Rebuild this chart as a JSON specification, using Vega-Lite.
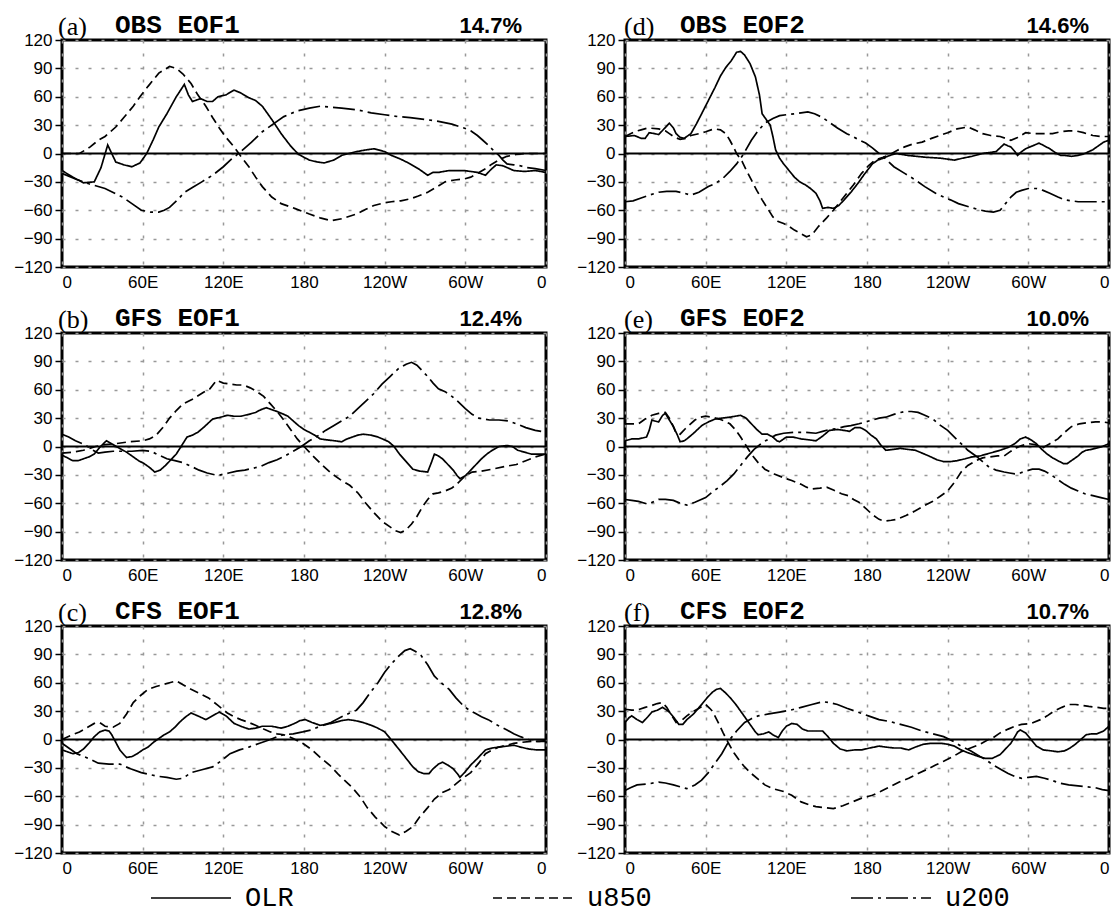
{
"$schema":"https://vega.github.io/schema/vega-lite/v6.json",
"padding":{"left":12,"top":10,"right":2,"bottom":2},
"background":"white",
"datasets":{
"titles":[
{"p":"a","tag":"(a)","name":"OBS EOF1","pct":"14.7%"},
{"p":"b","tag":"(b)","name":"GFS EOF1","pct":"12.4%"},
{"p":"c","tag":"(c)","name":"CFS EOF1","pct":"12.8%"},
{"p":"d","tag":"(d)","name":"OBS EOF2","pct":"14.6%"},
{"p":"e","tag":"(e)","name":"GFS EOF2","pct":"10.0%"},
{"p":"f","tag":"(f)","name":"CFS EOF2","pct":"10.7%"}
],
"a":[
{"s":"OLR","x":0,"y":-18},{"s":"OLR","x":8,"y":-25},{"s":"OLR","x":16,"y":-31},{"s":"OLR","x":24,"y":-30},{"s":"OLR","x":29,"y":-15},{"s":"OLR","x":34,"y":9},{"s":"OLR","x":37,"y":0},{"s":"OLR","x":40,"y":-9},{"s":"OLR","x":46,"y":-12},{"s":"OLR","x":52,"y":-14},{"s":"OLR","x":58,"y":-10},{"s":"OLR","x":63,"y":0},{"s":"OLR","x":68,"y":15},{"s":"OLR","x":72,"y":28},{"s":"OLR","x":78,"y":42},{"s":"OLR","x":85,"y":60},{"s":"OLR","x":91,"y":73},{"s":"OLR","x":94,"y":62},{"s":"OLR","x":97,"y":55},{"s":"OLR","x":103,"y":58},{"s":"OLR","x":108,"y":55},{"s":"OLR","x":112,"y":55},{"s":"OLR","x":116,"y":60},{"s":"OLR","x":122,"y":62},{"s":"OLR","x":128,"y":67},{"s":"OLR","x":133,"y":64},{"s":"OLR","x":139,"y":59},{"s":"OLR","x":144,"y":56},{"s":"OLR","x":149,"y":50},{"s":"OLR","x":156,"y":36},{"s":"OLR","x":163,"y":21},{"s":"OLR","x":170,"y":8},{"s":"OLR","x":176,"y":-1},{"s":"OLR","x":184,"y":-7},{"s":"OLR","x":190,"y":-9},{"s":"OLR","x":195,"y":-10},{"s":"OLR","x":202,"y":-7},{"s":"OLR","x":208,"y":-2},{"s":"OLR","x":219,"y":2},{"s":"OLR","x":227,"y":4},{"s":"OLR","x":232,"y":5},{"s":"OLR","x":240,"y":2},{"s":"OLR","x":245,"y":-2},{"s":"OLR","x":252,"y":-6},{"s":"OLR","x":259,"y":-11},{"s":"OLR","x":266,"y":-17},{"s":"OLR","x":272,"y":-23},{"s":"OLR","x":276,"y":-20},{"s":"OLR","x":280,"y":-20},{"s":"OLR","x":288,"y":-18},{"s":"OLR","x":299,"y":-18},{"s":"OLR","x":309,"y":-20},{"s":"OLR","x":315,"y":-23},{"s":"OLR","x":319,"y":-17},{"s":"OLR","x":323,"y":-12},{"s":"OLR","x":328,"y":-13},{"s":"OLR","x":336,"y":-18},{"s":"OLR","x":344,"y":-19},{"s":"OLR","x":352,"y":-18},{"s":"OLR","x":360,"y":-20},
{"s":"u850","x":0,"y":0},{"s":"u850","x":13,"y":0},{"s":"u850","x":21,"y":7},{"s":"u850","x":27,"y":14},{"s":"u850","x":32,"y":18},{"s":"u850","x":40,"y":28},{"s":"u850","x":46,"y":38},{"s":"u850","x":53,"y":50},{"s":"u850","x":58,"y":60},{"s":"u850","x":64,"y":71},{"s":"u850","x":72,"y":85},{"s":"u850","x":80,"y":92},{"s":"u850","x":85,"y":90},{"s":"u850","x":90,"y":84},{"s":"u850","x":96,"y":74},{"s":"u850","x":101,"y":62},{"s":"u850","x":107,"y":50},{"s":"u850","x":112,"y":38},{"s":"u850","x":117,"y":27},{"s":"u850","x":122,"y":17},{"s":"u850","x":128,"y":7},{"s":"u850","x":133,"y":-3},{"s":"u850","x":139,"y":-14},{"s":"u850","x":144,"y":-25},{"s":"u850","x":149,"y":-35},{"s":"u850","x":156,"y":-46},{"s":"u850","x":163,"y":-53},{"s":"u850","x":173,"y":-58},{"s":"u850","x":184,"y":-64},{"s":"u850","x":192,"y":-68},{"s":"u850","x":200,"y":-71},{"s":"u850","x":208,"y":-69},{"s":"u850","x":219,"y":-64},{"s":"u850","x":226,"y":-59},{"s":"u850","x":232,"y":-55},{"s":"u850","x":240,"y":-52},{"s":"u850","x":245,"y":-51},{"s":"u850","x":252,"y":-50},{"s":"u850","x":259,"y":-48},{"s":"u850","x":265,"y":-45},{"s":"u850","x":272,"y":-41},{"s":"u850","x":278,"y":-36},{"s":"u850","x":285,"y":-30},{"s":"u850","x":292,"y":-28},{"s":"u850","x":299,"y":-27},{"s":"u850","x":304,"y":-25},{"s":"u850","x":309,"y":-21},{"s":"u850","x":315,"y":-16},{"s":"u850","x":320,"y":-11},{"s":"u850","x":326,"y":-6},{"s":"u850","x":331,"y":-3},{"s":"u850","x":338,"y":-1},{"s":"u850","x":344,"y":0},{"s":"u850","x":352,"y":0},{"s":"u850","x":360,"y":0},
{"s":"u200","x":0,"y":-21},{"s":"u200","x":10,"y":-27},{"s":"u200","x":20,"y":-32},{"s":"u200","x":32,"y":-37},{"s":"u200","x":45,"y":-46},{"s":"u200","x":52,"y":-53},{"s":"u200","x":59,"y":-60},{"s":"u200","x":66,"y":-62},{"s":"u200","x":72,"y":-62},{"s":"u200","x":76,"y":-60},{"s":"u200","x":80,"y":-57},{"s":"u200","x":86,"y":-49},{"s":"u200","x":91,"y":-41},{"s":"u200","x":97,"y":-36},{"s":"u200","x":104,"y":-30},{"s":"u200","x":112,"y":-23},{"s":"u200","x":120,"y":-14},{"s":"u200","x":126,"y":-6},{"s":"u200","x":133,"y":2},{"s":"u200","x":141,"y":12},{"s":"u200","x":149,"y":23},{"s":"u200","x":157,"y":31},{"s":"u200","x":165,"y":39},{"s":"u200","x":175,"y":45},{"s":"u200","x":184,"y":48},{"s":"u200","x":192,"y":50},{"s":"u200","x":200,"y":49},{"s":"u200","x":208,"y":48},{"s":"u200","x":220,"y":46},{"s":"u200","x":230,"y":43},{"s":"u200","x":240,"y":41},{"s":"u200","x":250,"y":39},{"s":"u200","x":259,"y":38},{"s":"u200","x":270,"y":36},{"s":"u200","x":280,"y":34},{"s":"u200","x":290,"y":31},{"s":"u200","x":299,"y":27},{"s":"u200","x":304,"y":24},{"s":"u200","x":309,"y":19},{"s":"u200","x":313,"y":14},{"s":"u200","x":317,"y":9},{"s":"u200","x":321,"y":3},{"s":"u200","x":325,"y":-2},{"s":"u200","x":328,"y":-7},{"s":"u200","x":331,"y":-11},{"s":"u200","x":336,"y":-12},{"s":"u200","x":341,"y":-13},{"s":"u200","x":346,"y":-15},{"s":"u200","x":352,"y":-16},{"s":"u200","x":360,"y":-18}
],
"d":[
{"s":"OLR","x":0,"y":18},{"s":"OLR","x":7,"y":19},{"s":"OLR","x":12,"y":16},{"s":"OLR","x":15,"y":16},{"s":"OLR","x":18,"y":22},{"s":"OLR","x":22,"y":21},{"s":"OLR","x":25,"y":20},{"s":"OLR","x":29,"y":26},{"s":"OLR","x":33,"y":32},{"s":"OLR","x":36,"y":27},{"s":"OLR","x":38,"y":21},{"s":"OLR","x":41,"y":17},{"s":"OLR","x":44,"y":16},{"s":"OLR","x":49,"y":21},{"s":"OLR","x":53,"y":31},{"s":"OLR","x":57,"y":42},{"s":"OLR","x":62,"y":56},{"s":"OLR","x":67,"y":70},{"s":"OLR","x":71,"y":82},{"s":"OLR","x":75,"y":91},{"s":"OLR","x":79,"y":98},{"s":"OLR","x":83,"y":107},{"s":"OLR","x":86,"y":108},{"s":"OLR","x":89,"y":104},{"s":"OLR","x":93,"y":95},{"s":"OLR","x":97,"y":81},{"s":"OLR","x":100,"y":62},{"s":"OLR","x":102,"y":42},{"s":"OLR","x":105,"y":36},{"s":"OLR","x":108,"y":30},{"s":"OLR","x":110,"y":18},{"s":"OLR","x":112,"y":4},{"s":"OLR","x":115,"y":-5},{"s":"OLR","x":118,"y":-11},{"s":"OLR","x":122,"y":-18},{"s":"OLR","x":126,"y":-25},{"s":"OLR","x":130,"y":-30},{"s":"OLR","x":134,"y":-33},{"s":"OLR","x":138,"y":-37},{"s":"OLR","x":142,"y":-42},{"s":"OLR","x":145,"y":-50},{"s":"OLR","x":147,"y":-58},{"s":"OLR","x":151,"y":-57},{"s":"OLR","x":155,"y":-58},{"s":"OLR","x":159,"y":-55},{"s":"OLR","x":163,"y":-49},{"s":"OLR","x":168,"y":-41},{"s":"OLR","x":173,"y":-32},{"s":"OLR","x":178,"y":-22},{"s":"OLR","x":184,"y":-11},{"s":"OLR","x":188,"y":-7},{"s":"OLR","x":192,"y":-5},{"s":"OLR","x":197,"y":-2},{"s":"OLR","x":202,"y":0},{"s":"OLR","x":206,"y":-1},{"s":"OLR","x":210,"y":-2},{"s":"OLR","x":217,"y":-3},{"s":"OLR","x":224,"y":-4},{"s":"OLR","x":235,"y":-5},{"s":"OLR","x":245,"y":-7},{"s":"OLR","x":251,"y":-5},{"s":"OLR","x":258,"y":-3},{"s":"OLR","x":266,"y":0},{"s":"OLR","x":271,"y":1},{"s":"OLR","x":276,"y":2},{"s":"OLR","x":279,"y":6},{"s":"OLR","x":282,"y":10},{"s":"OLR","x":285,"y":8},{"s":"OLR","x":287,"y":7},{"s":"OLR","x":290,"y":2},{"s":"OLR","x":292,"y":-2},{"s":"OLR","x":295,"y":2},{"s":"OLR","x":298,"y":5},{"s":"OLR","x":303,"y":8},{"s":"OLR","x":308,"y":11},{"s":"OLR","x":312,"y":8},{"s":"OLR","x":316,"y":5},{"s":"OLR","x":320,"y":1},{"s":"OLR","x":324,"y":-2},{"s":"OLR","x":327,"y":-2},{"s":"OLR","x":332,"y":-3},{"s":"OLR","x":337,"y":-2},{"s":"OLR","x":342,"y":0},{"s":"OLR","x":348,"y":4},{"s":"OLR","x":353,"y":9},{"s":"OLR","x":356,"y":12},{"s":"OLR","x":360,"y":14},
{"s":"u850","x":0,"y":18},{"s":"u850","x":7,"y":23},{"s":"u850","x":12,"y":25},{"s":"u850","x":17,"y":27},{"s":"u850","x":25,"y":26},{"s":"u850","x":30,"y":24},{"s":"u850","x":33,"y":21},{"s":"u850","x":37,"y":17},{"s":"u850","x":41,"y":15},{"s":"u850","x":45,"y":16},{"s":"u850","x":49,"y":19},{"s":"u850","x":55,"y":21},{"s":"u850","x":60,"y":23},{"s":"u850","x":64,"y":25},{"s":"u850","x":67,"y":26},{"s":"u850","x":71,"y":25},{"s":"u850","x":75,"y":21},{"s":"u850","x":78,"y":14},{"s":"u850","x":81,"y":6},{"s":"u850","x":83,"y":0},{"s":"u850","x":87,"y":-8},{"s":"u850","x":90,"y":-17},{"s":"u850","x":94,"y":-28},{"s":"u850","x":98,"y":-39},{"s":"u850","x":102,"y":-49},{"s":"u850","x":106,"y":-58},{"s":"u850","x":110,"y":-67},{"s":"u850","x":114,"y":-72},{"s":"u850","x":118,"y":-74},{"s":"u850","x":122,"y":-77},{"s":"u850","x":126,"y":-81},{"s":"u850","x":130,"y":-84},{"s":"u850","x":135,"y":-88},{"s":"u850","x":139,"y":-86},{"s":"u850","x":144,"y":-77},{"s":"u850","x":150,"y":-68},{"s":"u850","x":155,"y":-60},{"s":"u850","x":160,"y":-51},{"s":"u850","x":165,"y":-42},{"s":"u850","x":170,"y":-33},{"s":"u850","x":176,"y":-21},{"s":"u850","x":181,"y":-13},{"s":"u850","x":186,"y":-7},{"s":"u850","x":192,"y":-4},{"s":"u850","x":197,"y":-1},{"s":"u850","x":202,"y":3},{"s":"u850","x":208,"y":7},{"s":"u850","x":214,"y":10},{"s":"u850","x":221,"y":12},{"s":"u850","x":228,"y":16},{"s":"u850","x":234,"y":19},{"s":"u850","x":240,"y":22},{"s":"u850","x":247,"y":26},{"s":"u850","x":255,"y":28},{"s":"u850","x":260,"y":25},{"s":"u850","x":266,"y":21},{"s":"u850","x":272,"y":19},{"s":"u850","x":279,"y":18},{"s":"u850","x":283,"y":16},{"s":"u850","x":287,"y":14},{"s":"u850","x":292,"y":17},{"s":"u850","x":298,"y":22},{"s":"u850","x":304,"y":21},{"s":"u850","x":311,"y":21},{"s":"u850","x":318,"y":21},{"s":"u850","x":324,"y":23},{"s":"u850","x":330,"y":24},{"s":"u850","x":335,"y":24},{"s":"u850","x":341,"y":22},{"s":"u850","x":348,"y":19},{"s":"u850","x":354,"y":18},{"s":"u850","x":360,"y":18},
{"s":"u200","x":0,"y":-51},{"s":"u200","x":6,"y":-50},{"s":"u200","x":12,"y":-47},{"s":"u200","x":18,"y":-44},{"s":"u200","x":25,"y":-41},{"s":"u200","x":31,"y":-40},{"s":"u200","x":38,"y":-40},{"s":"u200","x":44,"y":-42},{"s":"u200","x":49,"y":-44},{"s":"u200","x":55,"y":-41},{"s":"u200","x":62,"y":-35},{"s":"u200","x":68,"y":-31},{"s":"u200","x":73,"y":-26},{"s":"u200","x":78,"y":-19},{"s":"u200","x":83,"y":-11},{"s":"u200","x":88,"y":-1},{"s":"u200","x":94,"y":14},{"s":"u200","x":99,"y":24},{"s":"u200","x":104,"y":32},{"s":"u200","x":110,"y":37},{"s":"u200","x":115,"y":40},{"s":"u200","x":120,"y":41},{"s":"u200","x":126,"y":42},{"s":"u200","x":131,"y":43},{"s":"u200","x":136,"y":44},{"s":"u200","x":141,"y":42},{"s":"u200","x":147,"y":38},{"s":"u200","x":152,"y":33},{"s":"u200","x":158,"y":27},{"s":"u200","x":165,"y":21},{"s":"u200","x":172,"y":16},{"s":"u200","x":179,"y":11},{"s":"u200","x":184,"y":6},{"s":"u200","x":189,"y":0},{"s":"u200","x":194,"y":-6},{"s":"u200","x":200,"y":-14},{"s":"u200","x":208,"y":-21},{"s":"u200","x":216,"y":-28},{"s":"u200","x":223,"y":-35},{"s":"u200","x":231,"y":-42},{"s":"u200","x":237,"y":-46},{"s":"u200","x":242,"y":-49},{"s":"u200","x":248,"y":-53},{"s":"u200","x":255,"y":-56},{"s":"u200","x":262,"y":-59},{"s":"u200","x":268,"y":-61},{"s":"u200","x":274,"y":-62},{"s":"u200","x":279,"y":-60},{"s":"u200","x":283,"y":-53},{"s":"u200","x":287,"y":-46},{"s":"u200","x":291,"y":-41},{"s":"u200","x":295,"y":-39},{"s":"u200","x":300,"y":-37},{"s":"u200","x":306,"y":-37},{"s":"u200","x":311,"y":-39},{"s":"u200","x":316,"y":-42},{"s":"u200","x":322,"y":-46},{"s":"u200","x":327,"y":-49},{"s":"u200","x":332,"y":-50},{"s":"u200","x":337,"y":-51},{"s":"u200","x":345,"y":-51},{"s":"u200","x":351,"y":-51},{"s":"u200","x":360,"y":-51}
],
"b":[
{"s":"OLR","x":0,"y":-9},{"s":"OLR","x":4,"y":-12},{"s":"OLR","x":8,"y":-15},{"s":"OLR","x":12,"y":-15},{"s":"OLR","x":16,"y":-13},{"s":"OLR","x":20,"y":-11},{"s":"OLR","x":24,"y":-8},{"s":"OLR","x":28,"y":-1},{"s":"OLR","x":33,"y":6},{"s":"OLR","x":38,"y":2},{"s":"OLR","x":43,"y":-2},{"s":"OLR","x":48,"y":-6},{"s":"OLR","x":53,"y":-11},{"s":"OLR","x":57,"y":-15},{"s":"OLR","x":61,"y":-18},{"s":"OLR","x":65,"y":-22},{"s":"OLR","x":69,"y":-27},{"s":"OLR","x":73,"y":-25},{"s":"OLR","x":77,"y":-20},{"s":"OLR","x":81,"y":-14},{"s":"OLR","x":85,"y":-8},{"s":"OLR","x":89,"y":1},{"s":"OLR","x":93,"y":10},{"s":"OLR","x":97,"y":12},{"s":"OLR","x":101,"y":15},{"s":"OLR","x":106,"y":21},{"s":"OLR","x":112,"y":29},{"s":"OLR","x":118,"y":31},{"s":"OLR","x":123,"y":33},{"s":"OLR","x":128,"y":32},{"s":"OLR","x":133,"y":32},{"s":"OLR","x":139,"y":34},{"s":"OLR","x":144,"y":36},{"s":"OLR","x":148,"y":39},{"s":"OLR","x":152,"y":41},{"s":"OLR","x":156,"y":39},{"s":"OLR","x":160,"y":37},{"s":"OLR","x":165,"y":34},{"s":"OLR","x":168,"y":32},{"s":"OLR","x":172,"y":27},{"s":"OLR","x":176,"y":22},{"s":"OLR","x":180,"y":18},{"s":"OLR","x":184,"y":15},{"s":"OLR","x":188,"y":12},{"s":"OLR","x":192,"y":8},{"s":"OLR","x":197,"y":7},{"s":"OLR","x":203,"y":6},{"s":"OLR","x":208,"y":5},{"s":"OLR","x":212,"y":8},{"s":"OLR","x":216,"y":10},{"s":"OLR","x":220,"y":12},{"s":"OLR","x":224,"y":13},{"s":"OLR","x":230,"y":12},{"s":"OLR","x":235,"y":10},{"s":"OLR","x":240,"y":7},{"s":"OLR","x":243,"y":5},{"s":"OLR","x":247,"y":0},{"s":"OLR","x":251,"y":-8},{"s":"OLR","x":256,"y":-16},{"s":"OLR","x":261,"y":-24},{"s":"OLR","x":266,"y":-26},{"s":"OLR","x":272,"y":-27},{"s":"OLR","x":275,"y":-16},{"s":"OLR","x":277,"y":-8},{"s":"OLR","x":280,"y":-10},{"s":"OLR","x":283,"y":-13},{"s":"OLR","x":287,"y":-19},{"s":"OLR","x":291,"y":-25},{"s":"OLR","x":294,"y":-31},{"s":"OLR","x":296,"y":-34},{"s":"OLR","x":300,"y":-31},{"s":"OLR","x":304,"y":-25},{"s":"OLR","x":308,"y":-19},{"s":"OLR","x":312,"y":-13},{"s":"OLR","x":316,"y":-8},{"s":"OLR","x":320,"y":-4},{"s":"OLR","x":325,"y":0},{"s":"OLR","x":331,"y":1},{"s":"OLR","x":335,"y":0},{"s":"OLR","x":339,"y":-4},{"s":"OLR","x":344,"y":-6},{"s":"OLR","x":349,"y":-8},{"s":"OLR","x":354,"y":-8},{"s":"OLR","x":360,"y":-8},
{"s":"u850","x":0,"y":-7},{"s":"u850","x":8,"y":-6},{"s":"u850","x":16,"y":-4},{"s":"u850","x":25,"y":0},{"s":"u850","x":32,"y":2},{"s":"u850","x":40,"y":3},{"s":"u850","x":50,"y":5},{"s":"u850","x":60,"y":6},{"s":"u850","x":65,"y":8},{"s":"u850","x":70,"y":12},{"s":"u850","x":75,"y":20},{"s":"u850","x":80,"y":30},{"s":"u850","x":85,"y":38},{"s":"u850","x":90,"y":45},{"s":"u850","x":97,"y":50},{"s":"u850","x":105,"y":57},{"s":"u850","x":110,"y":61},{"s":"u850","x":115,"y":70},{"s":"u850","x":120,"y":67},{"s":"u850","x":125,"y":66},{"s":"u850","x":130,"y":65},{"s":"u850","x":135,"y":65},{"s":"u850","x":140,"y":62},{"s":"u850","x":145,"y":58},{"s":"u850","x":150,"y":53},{"s":"u850","x":155,"y":45},{"s":"u850","x":160,"y":37},{"s":"u850","x":165,"y":28},{"s":"u850","x":170,"y":18},{"s":"u850","x":175,"y":8},{"s":"u850","x":180,"y":0},{"s":"u850","x":186,"y":-9},{"s":"u850","x":193,"y":-19},{"s":"u850","x":200,"y":-28},{"s":"u850","x":207,"y":-35},{"s":"u850","x":214,"y":-41},{"s":"u850","x":220,"y":-49},{"s":"u850","x":226,"y":-60},{"s":"u850","x":232,"y":-70},{"s":"u850","x":238,"y":-79},{"s":"u850","x":244,"y":-85},{"s":"u850","x":248,"y":-89},{"s":"u850","x":252,"y":-91},{"s":"u850","x":256,"y":-88},{"s":"u850","x":260,"y":-82},{"s":"u850","x":264,"y":-74},{"s":"u850","x":268,"y":-64},{"s":"u850","x":272,"y":-56},{"s":"u850","x":276,"y":-50},{"s":"u850","x":280,"y":-49},{"s":"u850","x":285,"y":-47},{"s":"u850","x":290,"y":-44},{"s":"u850","x":295,"y":-38},{"s":"u850","x":300,"y":-31},{"s":"u850","x":305,"y":-27},{"s":"u850","x":312,"y":-26},{"s":"u850","x":320,"y":-24},{"s":"u850","x":330,"y":-21},{"s":"u850","x":338,"y":-19},{"s":"u850","x":345,"y":-15},{"s":"u850","x":352,"y":-11},{"s":"u850","x":360,"y":-8},
{"s":"u200","x":0,"y":13},{"s":"u200","x":5,"y":10},{"s":"u200","x":10,"y":6},{"s":"u200","x":15,"y":3},{"s":"u200","x":19,"y":0},{"s":"u200","x":23,"y":-4},{"s":"u200","x":27,"y":-7},{"s":"u200","x":32,"y":-6},{"s":"u200","x":38,"y":-5},{"s":"u200","x":45,"y":-5},{"s":"u200","x":52,"y":-5},{"s":"u200","x":60,"y":-4},{"s":"u200","x":66,"y":-5},{"s":"u200","x":72,"y":-9},{"s":"u200","x":78,"y":-13},{"s":"u200","x":84,"y":-15},{"s":"u200","x":90,"y":-17},{"s":"u200","x":96,"y":-21},{"s":"u200","x":102,"y":-25},{"s":"u200","x":108,"y":-28},{"s":"u200","x":114,"y":-30},{"s":"u200","x":118,"y":-30},{"s":"u200","x":124,"y":-28},{"s":"u200","x":130,"y":-26},{"s":"u200","x":136,"y":-25},{"s":"u200","x":142,"y":-23},{"s":"u200","x":148,"y":-21},{"s":"u200","x":154,"y":-17},{"s":"u200","x":160,"y":-14},{"s":"u200","x":166,"y":-10},{"s":"u200","x":172,"y":-5},{"s":"u200","x":178,"y":0},{"s":"u200","x":184,"y":6},{"s":"u200","x":190,"y":11},{"s":"u200","x":196,"y":17},{"s":"u200","x":202,"y":22},{"s":"u200","x":208,"y":27},{"s":"u200","x":214,"y":32},{"s":"u200","x":220,"y":40},{"s":"u200","x":226,"y":48},{"s":"u200","x":232,"y":56},{"s":"u200","x":238,"y":66},{"s":"u200","x":244,"y":74},{"s":"u200","x":250,"y":82},{"s":"u200","x":256,"y":87},{"s":"u200","x":260,"y":89},{"s":"u200","x":264,"y":86},{"s":"u200","x":268,"y":80},{"s":"u200","x":272,"y":74},{"s":"u200","x":276,"y":67},{"s":"u200","x":280,"y":61},{"s":"u200","x":285,"y":58},{"s":"u200","x":290,"y":53},{"s":"u200","x":295,"y":47},{"s":"u200","x":300,"y":40},{"s":"u200","x":305,"y":34},{"s":"u200","x":310,"y":30},{"s":"u200","x":318,"y":28},{"s":"u200","x":325,"y":28},{"s":"u200","x":332,"y":27},{"s":"u200","x":338,"y":24},{"s":"u200","x":345,"y":20},{"s":"u200","x":352,"y":17},{"s":"u200","x":360,"y":15}
],
"e":[
{"s":"OLR","x":0,"y":6},{"s":"OLR","x":5,"y":8},{"s":"OLR","x":10,"y":8},{"s":"OLR","x":16,"y":10},{"s":"OLR","x":18,"y":17},{"s":"OLR","x":20,"y":28},{"s":"OLR","x":22,"y":27},{"s":"OLR","x":25,"y":26},{"s":"OLR","x":28,"y":33},{"s":"OLR","x":30,"y":35},{"s":"OLR","x":33,"y":28},{"s":"OLR","x":36,"y":21},{"s":"OLR","x":39,"y":12},{"s":"OLR","x":41,"y":5},{"s":"OLR","x":44,"y":6},{"s":"OLR","x":46,"y":8},{"s":"OLR","x":51,"y":14},{"s":"OLR","x":57,"y":22},{"s":"OLR","x":62,"y":26},{"s":"OLR","x":67,"y":29},{"s":"OLR","x":72,"y":30},{"s":"OLR","x":78,"y":31},{"s":"OLR","x":82,"y":32},{"s":"OLR","x":86,"y":33},{"s":"OLR","x":90,"y":30},{"s":"OLR","x":94,"y":24},{"s":"OLR","x":98,"y":18},{"s":"OLR","x":102,"y":13},{"s":"OLR","x":106,"y":13},{"s":"OLR","x":110,"y":10},{"s":"OLR","x":113,"y":6},{"s":"OLR","x":115,"y":5},{"s":"OLR","x":118,"y":8},{"s":"OLR","x":120,"y":10},{"s":"OLR","x":125,"y":10},{"s":"OLR","x":131,"y":8},{"s":"OLR","x":137,"y":7},{"s":"OLR","x":142,"y":6},{"s":"OLR","x":147,"y":11},{"s":"OLR","x":152,"y":17},{"s":"OLR","x":158,"y":18},{"s":"OLR","x":163,"y":17},{"s":"OLR","x":167,"y":16},{"s":"OLR","x":171,"y":20},{"s":"OLR","x":175,"y":20},{"s":"OLR","x":179,"y":17},{"s":"OLR","x":183,"y":12},{"s":"OLR","x":187,"y":8},{"s":"OLR","x":190,"y":2},{"s":"OLR","x":194,"y":-4},{"s":"OLR","x":200,"y":-3},{"s":"OLR","x":205,"y":-2},{"s":"OLR","x":210,"y":-3},{"s":"OLR","x":216,"y":-4},{"s":"OLR","x":221,"y":-7},{"s":"OLR","x":226,"y":-10},{"s":"OLR","x":232,"y":-14},{"s":"OLR","x":237,"y":-16},{"s":"OLR","x":242,"y":-16},{"s":"OLR","x":247,"y":-15},{"s":"OLR","x":253,"y":-13},{"s":"OLR","x":258,"y":-11},{"s":"OLR","x":264,"y":-10},{"s":"OLR","x":269,"y":-8},{"s":"OLR","x":274,"y":-6},{"s":"OLR","x":279,"y":-4},{"s":"OLR","x":285,"y":-1},{"s":"OLR","x":290,"y":3},{"s":"OLR","x":294,"y":8},{"s":"OLR","x":298,"y":10},{"s":"OLR","x":302,"y":7},{"s":"OLR","x":306,"y":3},{"s":"OLR","x":310,"y":-3},{"s":"OLR","x":314,"y":-8},{"s":"OLR","x":318,"y":-12},{"s":"OLR","x":322,"y":-15},{"s":"OLR","x":326,"y":-18},{"s":"OLR","x":329,"y":-18},{"s":"OLR","x":333,"y":-14},{"s":"OLR","x":337,"y":-10},{"s":"OLR","x":340,"y":-6},{"s":"OLR","x":343,"y":-4},{"s":"OLR","x":347,"y":-3},{"s":"OLR","x":350,"y":-2},{"s":"OLR","x":355,"y":0},{"s":"OLR","x":360,"y":3},
{"s":"u850","x":0,"y":24},{"s":"u850","x":5,"y":24},{"s":"u850","x":10,"y":24},{"s":"u850","x":15,"y":29},{"s":"u850","x":20,"y":33},{"s":"u850","x":25,"y":35},{"s":"u850","x":30,"y":36},{"s":"u850","x":33,"y":30},{"s":"u850","x":36,"y":21},{"s":"u850","x":38,"y":14},{"s":"u850","x":41,"y":13},{"s":"u850","x":45,"y":19},{"s":"u850","x":52,"y":28},{"s":"u850","x":56,"y":31},{"s":"u850","x":60,"y":32},{"s":"u850","x":65,"y":31},{"s":"u850","x":70,"y":29},{"s":"u850","x":74,"y":27},{"s":"u850","x":78,"y":24},{"s":"u850","x":82,"y":18},{"s":"u850","x":86,"y":10},{"s":"u850","x":90,"y":1},{"s":"u850","x":94,"y":-8},{"s":"u850","x":99,"y":-17},{"s":"u850","x":104,"y":-24},{"s":"u850","x":111,"y":-29},{"s":"u850","x":118,"y":-33},{"s":"u850","x":124,"y":-36},{"s":"u850","x":131,"y":-40},{"s":"u850","x":135,"y":-43},{"s":"u850","x":139,"y":-45},{"s":"u850","x":145,"y":-44},{"s":"u850","x":150,"y":-43},{"s":"u850","x":155,"y":-46},{"s":"u850","x":161,"y":-50},{"s":"u850","x":166,"y":-52},{"s":"u850","x":170,"y":-56},{"s":"u850","x":174,"y":-59},{"s":"u850","x":178,"y":-64},{"s":"u850","x":184,"y":-72},{"s":"u850","x":189,"y":-77},{"s":"u850","x":193,"y":-79},{"s":"u850","x":198,"y":-78},{"s":"u850","x":202,"y":-77},{"s":"u850","x":209,"y":-73},{"s":"u850","x":216,"y":-68},{"s":"u850","x":222,"y":-63},{"s":"u850","x":229,"y":-58},{"s":"u850","x":235,"y":-52},{"s":"u850","x":240,"y":-47},{"s":"u850","x":245,"y":-38},{"s":"u850","x":250,"y":-27},{"s":"u850","x":255,"y":-20},{"s":"u850","x":261,"y":-15},{"s":"u850","x":266,"y":-12},{"s":"u850","x":271,"y":-11},{"s":"u850","x":277,"y":-10},{"s":"u850","x":282,"y":-10},{"s":"u850","x":286,"y":-6},{"s":"u850","x":290,"y":-2},{"s":"u850","x":295,"y":1},{"s":"u850","x":300,"y":3},{"s":"u850","x":305,"y":2},{"s":"u850","x":311,"y":-1},{"s":"u850","x":316,"y":3},{"s":"u850","x":322,"y":8},{"s":"u850","x":327,"y":15},{"s":"u850","x":332,"y":21},{"s":"u850","x":338,"y":24},{"s":"u850","x":343,"y":25},{"s":"u850","x":350,"y":26},{"s":"u850","x":355,"y":26},{"s":"u850","x":360,"y":25},
{"s":"u200","x":0,"y":-56},{"s":"u200","x":5,"y":-57},{"s":"u200","x":10,"y":-58},{"s":"u200","x":17,"y":-61},{"s":"u200","x":22,"y":-58},{"s":"u200","x":25,"y":-56},{"s":"u200","x":30,"y":-56},{"s":"u200","x":36,"y":-57},{"s":"u200","x":41,"y":-60},{"s":"u200","x":46,"y":-62},{"s":"u200","x":52,"y":-59},{"s":"u200","x":60,"y":-54},{"s":"u200","x":65,"y":-48},{"s":"u200","x":70,"y":-43},{"s":"u200","x":76,"y":-36},{"s":"u200","x":81,"y":-29},{"s":"u200","x":86,"y":-20},{"s":"u200","x":91,"y":-11},{"s":"u200","x":96,"y":-3},{"s":"u200","x":102,"y":4},{"s":"u200","x":107,"y":8},{"s":"u200","x":112,"y":12},{"s":"u200","x":118,"y":14},{"s":"u200","x":126,"y":15},{"s":"u200","x":134,"y":15},{"s":"u200","x":142,"y":14},{"s":"u200","x":147,"y":16},{"s":"u200","x":152,"y":18},{"s":"u200","x":158,"y":19},{"s":"u200","x":163,"y":21},{"s":"u200","x":168,"y":22},{"s":"u200","x":174,"y":24},{"s":"u200","x":179,"y":26},{"s":"u200","x":184,"y":28},{"s":"u200","x":189,"y":30},{"s":"u200","x":194,"y":31},{"s":"u200","x":200,"y":34},{"s":"u200","x":205,"y":36},{"s":"u200","x":208,"y":37},{"s":"u200","x":213,"y":37},{"s":"u200","x":218,"y":36},{"s":"u200","x":223,"y":33},{"s":"u200","x":229,"y":29},{"s":"u200","x":234,"y":23},{"s":"u200","x":240,"y":17},{"s":"u200","x":245,"y":10},{"s":"u200","x":250,"y":3},{"s":"u200","x":255,"y":-4},{"s":"u200","x":261,"y":-10},{"s":"u200","x":266,"y":-16},{"s":"u200","x":271,"y":-22},{"s":"u200","x":276,"y":-25},{"s":"u200","x":282,"y":-27},{"s":"u200","x":286,"y":-28},{"s":"u200","x":290,"y":-29},{"s":"u200","x":294,"y":-28},{"s":"u200","x":298,"y":-26},{"s":"u200","x":303,"y":-24},{"s":"u200","x":308,"y":-24},{"s":"u200","x":312,"y":-26},{"s":"u200","x":316,"y":-29},{"s":"u200","x":322,"y":-35},{"s":"u200","x":327,"y":-40},{"s":"u200","x":332,"y":-44},{"s":"u200","x":337,"y":-47},{"s":"u200","x":342,"y":-50},{"s":"u200","x":348,"y":-52},{"s":"u200","x":354,"y":-54},{"s":"u200","x":360,"y":-56}
],
"c":[
{"s":"OLR","x":0,"y":-11},{"s":"OLR","x":4,"y":-13},{"s":"OLR","x":8,"y":-15},{"s":"OLR","x":12,"y":-14},{"s":"OLR","x":16,"y":-10},{"s":"OLR","x":20,"y":-4},{"s":"OLR","x":24,"y":3},{"s":"OLR","x":28,"y":8},{"s":"OLR","x":32,"y":10},{"s":"OLR","x":35,"y":9},{"s":"OLR","x":37,"y":5},{"s":"OLR","x":40,"y":-3},{"s":"OLR","x":43,"y":-11},{"s":"OLR","x":46,"y":-16},{"s":"OLR","x":48,"y":-19},{"s":"OLR","x":52,"y":-18},{"s":"OLR","x":56,"y":-15},{"s":"OLR","x":60,"y":-11},{"s":"OLR","x":64,"y":-8},{"s":"OLR","x":68,"y":-3},{"s":"OLR","x":72,"y":1},{"s":"OLR","x":76,"y":5},{"s":"OLR","x":80,"y":8},{"s":"OLR","x":84,"y":13},{"s":"OLR","x":88,"y":19},{"s":"OLR","x":92,"y":24},{"s":"OLR","x":96,"y":28},{"s":"OLR","x":101,"y":25},{"s":"OLR","x":107,"y":21},{"s":"OLR","x":112,"y":25},{"s":"OLR","x":117,"y":29},{"s":"OLR","x":122,"y":25},{"s":"OLR","x":128,"y":17},{"s":"OLR","x":133,"y":14},{"s":"OLR","x":139,"y":11},{"s":"OLR","x":144,"y":12},{"s":"OLR","x":149,"y":14},{"s":"OLR","x":156,"y":14},{"s":"OLR","x":163,"y":12},{"s":"OLR","x":168,"y":14},{"s":"OLR","x":173,"y":17},{"s":"OLR","x":177,"y":20},{"s":"OLR","x":181,"y":21},{"s":"OLR","x":186,"y":18},{"s":"OLR","x":192,"y":15},{"s":"OLR","x":197,"y":16},{"s":"OLR","x":203,"y":18},{"s":"OLR","x":208,"y":20},{"s":"OLR","x":213,"y":21},{"s":"OLR","x":218,"y":20},{"s":"OLR","x":224,"y":18},{"s":"OLR","x":230,"y":15},{"s":"OLR","x":235,"y":12},{"s":"OLR","x":240,"y":8},{"s":"OLR","x":243,"y":3},{"s":"OLR","x":247,"y":-4},{"s":"OLR","x":251,"y":-11},{"s":"OLR","x":256,"y":-20},{"s":"OLR","x":261,"y":-29},{"s":"OLR","x":265,"y":-34},{"s":"OLR","x":269,"y":-36},{"s":"OLR","x":273,"y":-36},{"s":"OLR","x":276,"y":-31},{"s":"OLR","x":280,"y":-26},{"s":"OLR","x":283,"y":-24},{"s":"OLR","x":287,"y":-27},{"s":"OLR","x":291,"y":-31},{"s":"OLR","x":294,"y":-36},{"s":"OLR","x":296,"y":-40},{"s":"OLR","x":300,"y":-34},{"s":"OLR","x":304,"y":-27},{"s":"OLR","x":309,"y":-20},{"s":"OLR","x":315,"y":-11},{"s":"OLR","x":320,"y":-9},{"s":"OLR","x":325,"y":-8},{"s":"OLR","x":331,"y":-7},{"s":"OLR","x":336,"y":-6},{"s":"OLR","x":341,"y":-8},{"s":"OLR","x":347,"y":-10},{"s":"OLR","x":353,"y":-11},{"s":"OLR","x":360,"y":-11},
{"s":"u850","x":0,"y":0},{"s":"u850","x":6,"y":4},{"s":"u850","x":13,"y":8},{"s":"u850","x":18,"y":12},{"s":"u850","x":24,"y":17},{"s":"u850","x":28,"y":18},{"s":"u850","x":32,"y":14},{"s":"u850","x":38,"y":13},{"s":"u850","x":43,"y":17},{"s":"u850","x":48,"y":27},{"s":"u850","x":53,"y":39},{"s":"u850","x":58,"y":46},{"s":"u850","x":64,"y":53},{"s":"u850","x":70,"y":56},{"s":"u850","x":75,"y":58},{"s":"u850","x":80,"y":60},{"s":"u850","x":85,"y":62},{"s":"u850","x":90,"y":58},{"s":"u850","x":96,"y":53},{"s":"u850","x":102,"y":49},{"s":"u850","x":109,"y":44},{"s":"u850","x":116,"y":36},{"s":"u850","x":123,"y":28},{"s":"u850","x":128,"y":24},{"s":"u850","x":133,"y":21},{"s":"u850","x":139,"y":18},{"s":"u850","x":144,"y":15},{"s":"u850","x":150,"y":11},{"s":"u850","x":155,"y":8},{"s":"u850","x":160,"y":6},{"s":"u850","x":165,"y":5},{"s":"u850","x":172,"y":1},{"s":"u850","x":179,"y":-4},{"s":"u850","x":186,"y":-11},{"s":"u850","x":192,"y":-19},{"s":"u850","x":199,"y":-27},{"s":"u850","x":205,"y":-36},{"s":"u850","x":210,"y":-43},{"s":"u850","x":216,"y":-51},{"s":"u850","x":222,"y":-61},{"s":"u850","x":227,"y":-72},{"s":"u850","x":233,"y":-82},{"s":"u850","x":240,"y":-92},{"s":"u850","x":245,"y":-97},{"s":"u850","x":251,"y":-101},{"s":"u850","x":256,"y":-97},{"s":"u850","x":261,"y":-92},{"s":"u850","x":266,"y":-82},{"s":"u850","x":272,"y":-72},{"s":"u850","x":277,"y":-63},{"s":"u850","x":283,"y":-56},{"s":"u850","x":288,"y":-53},{"s":"u850","x":293,"y":-47},{"s":"u850","x":298,"y":-41},{"s":"u850","x":304,"y":-35},{"s":"u850","x":310,"y":-25},{"s":"u850","x":315,"y":-15},{"s":"u850","x":320,"y":-11},{"s":"u850","x":325,"y":-8},{"s":"u850","x":331,"y":-6},{"s":"u850","x":336,"y":-4},{"s":"u850","x":342,"y":-3},{"s":"u850","x":349,"y":-2},{"s":"u850","x":355,"y":-2},{"s":"u850","x":360,"y":-1},
{"s":"u200","x":0,"y":-4},{"s":"u200","x":5,"y":-9},{"s":"u200","x":11,"y":-15},{"s":"u200","x":18,"y":-19},{"s":"u200","x":27,"y":-25},{"s":"u200","x":35,"y":-26},{"s":"u200","x":43,"y":-26},{"s":"u200","x":51,"y":-31},{"s":"u200","x":59,"y":-35},{"s":"u200","x":65,"y":-37},{"s":"u200","x":72,"y":-39},{"s":"u200","x":78,"y":-40},{"s":"u200","x":85,"y":-42},{"s":"u200","x":90,"y":-41},{"s":"u200","x":96,"y":-35},{"s":"u200","x":104,"y":-32},{"s":"u200","x":112,"y":-29},{"s":"u200","x":118,"y":-23},{"s":"u200","x":125,"y":-15},{"s":"u200","x":132,"y":-11},{"s":"u200","x":139,"y":-8},{"s":"u200","x":147,"y":-4},{"s":"u200","x":155,"y":0},{"s":"u200","x":160,"y":3},{"s":"u200","x":165,"y":5},{"s":"u200","x":172,"y":6},{"s":"u200","x":179,"y":8},{"s":"u200","x":185,"y":10},{"s":"u200","x":192,"y":14},{"s":"u200","x":200,"y":18},{"s":"u200","x":208,"y":24},{"s":"u200","x":214,"y":28},{"s":"u200","x":219,"y":31},{"s":"u200","x":224,"y":39},{"s":"u200","x":229,"y":49},{"s":"u200","x":235,"y":60},{"s":"u200","x":240,"y":71},{"s":"u200","x":245,"y":80},{"s":"u200","x":251,"y":89},{"s":"u200","x":255,"y":94},{"s":"u200","x":259,"y":96},{"s":"u200","x":263,"y":93},{"s":"u200","x":267,"y":89},{"s":"u200","x":272,"y":79},{"s":"u200","x":277,"y":67},{"s":"u200","x":282,"y":60},{"s":"u200","x":288,"y":53},{"s":"u200","x":293,"y":44},{"s":"u200","x":299,"y":35},{"s":"u200","x":303,"y":31},{"s":"u200","x":307,"y":28},{"s":"u200","x":312,"y":24},{"s":"u200","x":317,"y":21},{"s":"u200","x":324,"y":15},{"s":"u200","x":331,"y":10},{"s":"u200","x":336,"y":6},{"s":"u200","x":341,"y":3},{"s":"u200","x":347,"y":0},{"s":"u200","x":352,"y":-2},{"s":"u200","x":360,"y":-2}
],
"f":[
{"s":"OLR","x":0,"y":18},{"s":"OLR","x":3,"y":23},{"s":"OLR","x":5,"y":25},{"s":"OLR","x":9,"y":21},{"s":"OLR","x":13,"y":18},{"s":"OLR","x":17,"y":24},{"s":"OLR","x":20,"y":29},{"s":"OLR","x":24,"y":31},{"s":"OLR","x":28,"y":34},{"s":"OLR","x":31,"y":31},{"s":"OLR","x":33,"y":29},{"s":"OLR","x":37,"y":22},{"s":"OLR","x":40,"y":16},{"s":"OLR","x":43,"y":16},{"s":"OLR","x":46,"y":21},{"s":"OLR","x":51,"y":27},{"s":"OLR","x":57,"y":37},{"s":"OLR","x":61,"y":44},{"s":"OLR","x":65,"y":50},{"s":"OLR","x":68,"y":53},{"s":"OLR","x":71,"y":54},{"s":"OLR","x":75,"y":49},{"s":"OLR","x":79,"y":43},{"s":"OLR","x":83,"y":36},{"s":"OLR","x":86,"y":30},{"s":"OLR","x":90,"y":22},{"s":"OLR","x":94,"y":14},{"s":"OLR","x":97,"y":8},{"s":"OLR","x":99,"y":5},{"s":"OLR","x":103,"y":6},{"s":"OLR","x":107,"y":8},{"s":"OLR","x":110,"y":5},{"s":"OLR","x":114,"y":2},{"s":"OLR","x":117,"y":9},{"s":"OLR","x":120,"y":14},{"s":"OLR","x":124,"y":17},{"s":"OLR","x":128,"y":16},{"s":"OLR","x":132,"y":11},{"s":"OLR","x":136,"y":9},{"s":"OLR","x":141,"y":9},{"s":"OLR","x":147,"y":9},{"s":"OLR","x":151,"y":3},{"s":"OLR","x":155,"y":-4},{"s":"OLR","x":160,"y":-10},{"s":"OLR","x":165,"y":-12},{"s":"OLR","x":171,"y":-11},{"s":"OLR","x":176,"y":-11},{"s":"OLR","x":182,"y":-9},{"s":"OLR","x":189,"y":-7},{"s":"OLR","x":194,"y":-8},{"s":"OLR","x":200,"y":-9},{"s":"OLR","x":205,"y":-9},{"s":"OLR","x":211,"y":-11},{"s":"OLR","x":216,"y":-8},{"s":"OLR","x":222,"y":-5},{"s":"OLR","x":228,"y":-4},{"s":"OLR","x":235,"y":-4},{"s":"OLR","x":240,"y":-5},{"s":"OLR","x":245,"y":-7},{"s":"OLR","x":250,"y":-11},{"s":"OLR","x":255,"y":-14},{"s":"OLR","x":261,"y":-17},{"s":"OLR","x":268,"y":-20},{"s":"OLR","x":273,"y":-20},{"s":"OLR","x":279,"y":-16},{"s":"OLR","x":283,"y":-10},{"s":"OLR","x":287,"y":-4},{"s":"OLR","x":290,"y":3},{"s":"OLR","x":292,"y":8},{"s":"OLR","x":294,"y":10},{"s":"OLR","x":298,"y":7},{"s":"OLR","x":302,"y":0},{"s":"OLR","x":306,"y":-7},{"s":"OLR","x":311,"y":-11},{"s":"OLR","x":317,"y":-12},{"s":"OLR","x":322,"y":-13},{"s":"OLR","x":327,"y":-12},{"s":"OLR","x":331,"y":-9},{"s":"OLR","x":335,"y":-5},{"s":"OLR","x":339,"y":0},{"s":"OLR","x":343,"y":5},{"s":"OLR","x":347,"y":6},{"s":"OLR","x":351,"y":6},{"s":"OLR","x":356,"y":9},{"s":"OLR","x":360,"y":14},
{"s":"u850","x":0,"y":32},{"s":"u850","x":5,"y":31},{"s":"u850","x":9,"y":31},{"s":"u850","x":15,"y":34},{"s":"u850","x":20,"y":36},{"s":"u850","x":24,"y":38},{"s":"u850","x":28,"y":39},{"s":"u850","x":31,"y":34},{"s":"u850","x":34,"y":27},{"s":"u850","x":38,"y":18},{"s":"u850","x":42,"y":20},{"s":"u850","x":46,"y":25},{"s":"u850","x":50,"y":29},{"s":"u850","x":55,"y":33},{"s":"u850","x":60,"y":37},{"s":"u850","x":63,"y":33},{"s":"u850","x":65,"y":30},{"s":"u850","x":69,"y":19},{"s":"u850","x":73,"y":7},{"s":"u850","x":77,"y":-4},{"s":"u850","x":81,"y":-14},{"s":"u850","x":85,"y":-22},{"s":"u850","x":89,"y":-29},{"s":"u850","x":94,"y":-36},{"s":"u850","x":99,"y":-42},{"s":"u850","x":104,"y":-48},{"s":"u850","x":110,"y":-52},{"s":"u850","x":118,"y":-55},{"s":"u850","x":124,"y":-59},{"s":"u850","x":131,"y":-66},{"s":"u850","x":137,"y":-69},{"s":"u850","x":142,"y":-71},{"s":"u850","x":148,"y":-72},{"s":"u850","x":155,"y":-73},{"s":"u850","x":162,"y":-70},{"s":"u850","x":169,"y":-66},{"s":"u850","x":176,"y":-62},{"s":"u850","x":184,"y":-59},{"s":"u850","x":190,"y":-55},{"s":"u850","x":197,"y":-50},{"s":"u850","x":204,"y":-45},{"s":"u850","x":211,"y":-41},{"s":"u850","x":218,"y":-36},{"s":"u850","x":224,"y":-32},{"s":"u850","x":231,"y":-27},{"s":"u850","x":237,"y":-23},{"s":"u850","x":244,"y":-18},{"s":"u850","x":250,"y":-13},{"s":"u850","x":257,"y":-9},{"s":"u850","x":264,"y":-5},{"s":"u850","x":269,"y":-1},{"s":"u850","x":274,"y":2},{"s":"u850","x":279,"y":7},{"s":"u850","x":285,"y":11},{"s":"u850","x":290,"y":14},{"s":"u850","x":295,"y":16},{"s":"u850","x":302,"y":17},{"s":"u850","x":309,"y":21},{"s":"u850","x":314,"y":25},{"s":"u850","x":319,"y":30},{"s":"u850","x":325,"y":34},{"s":"u850","x":330,"y":37},{"s":"u850","x":335,"y":37},{"s":"u850","x":340,"y":36},{"s":"u850","x":345,"y":35},{"s":"u850","x":351,"y":34},{"s":"u850","x":356,"y":33},{"s":"u850","x":360,"y":33},
{"s":"u200","x":0,"y":-54},{"s":"u200","x":4,"y":-51},{"s":"u200","x":9,"y":-48},{"s":"u200","x":17,"y":-47},{"s":"u200","x":25,"y":-45},{"s":"u200","x":30,"y":-46},{"s":"u200","x":36,"y":-48},{"s":"u200","x":41,"y":-50},{"s":"u200","x":46,"y":-52},{"s":"u200","x":52,"y":-48},{"s":"u200","x":57,"y":-43},{"s":"u200","x":62,"y":-35},{"s":"u200","x":67,"y":-25},{"s":"u200","x":72,"y":-15},{"s":"u200","x":78,"y":0},{"s":"u200","x":83,"y":9},{"s":"u200","x":89,"y":18},{"s":"u200","x":94,"y":22},{"s":"u200","x":99,"y":25},{"s":"u200","x":107,"y":27},{"s":"u200","x":115,"y":29},{"s":"u200","x":123,"y":31},{"s":"u200","x":131,"y":34},{"s":"u200","x":139,"y":37},{"s":"u200","x":147,"y":40},{"s":"u200","x":152,"y":39},{"s":"u200","x":158,"y":37},{"s":"u200","x":165,"y":33},{"s":"u200","x":173,"y":29},{"s":"u200","x":181,"y":25},{"s":"u200","x":189,"y":21},{"s":"u200","x":197,"y":19},{"s":"u200","x":205,"y":16},{"s":"u200","x":213,"y":13},{"s":"u200","x":221,"y":9},{"s":"u200","x":229,"y":6},{"s":"u200","x":237,"y":3},{"s":"u200","x":243,"y":-1},{"s":"u200","x":250,"y":-7},{"s":"u200","x":257,"y":-12},{"s":"u200","x":264,"y":-18},{"s":"u200","x":269,"y":-22},{"s":"u200","x":274,"y":-27},{"s":"u200","x":280,"y":-32},{"s":"u200","x":285,"y":-36},{"s":"u200","x":290,"y":-39},{"s":"u200","x":295,"y":-41},{"s":"u200","x":300,"y":-40},{"s":"u200","x":306,"y":-39},{"s":"u200","x":312,"y":-41},{"s":"u200","x":317,"y":-43},{"s":"u200","x":323,"y":-46},{"s":"u200","x":330,"y":-48},{"s":"u200","x":337,"y":-49},{"s":"u200","x":343,"y":-50},{"s":"u200","x":350,"y":-51},{"s":"u200","x":355,"y":-53},{"s":"u200","x":360,"y":-54}
]
},
"columns":2,
"spacing":{"row":66,"column":79},
"bounds":"flush",
"concat":[
{"width":484,"height":227,"layer":[
 {"data":{"name":"a"},"mark":{"type":"line","color":"black","strokeWidth":1.7},"encoding":{
  "x":{"field":"x","type":"quantitative","scale":{"domain":[0,360],"nice":false,"zero":false},"axis":{"values":[0,60,120,180,240,300,360],"title":null,"labelExpr":"datum.value == 0 || datum.value == 360 ? '0' : datum.value < 180 ? datum.value + 'E' : datum.value == 180 ? '180' : (360 - datum.value) + 'W'"}},
  "y":{"field":"y","type":"quantitative","scale":{"domain":[-120,120],"nice":false,"zero":false},"axis":{"values":[-120,-90,-60,-30,0,30,60,90,120],"title":null,"labelOverlap":false}},
  "strokeDash":{"field":"s","type":"nominal","scale":{"domain":["OLR","u850","u200"],"range":[[1,0],[9,5],[22,5,3,5]]},"legend":{"orient":"none","legendX":88,"legendY":817,"direction":"horizontal","columns":3,"title":null,"symbolType":"stroke","symbolSize":6400,"symbolStrokeWidth":1.6,"symbolStrokeColor":"black","labelFont":"Liberation Mono","labelFontSize":27,"labelColor":"black","labelOffset":13,"columnPadding":195,"gridAlign":"each"}}}},
 {"data":{"name":"titles"},"transform":[{"filter":"datum.p == 'a'"}],"layer":[
  {"mark":{"type":"rule","color":"black","strokeWidth":2},"encoding":{"y":{"datum":0,"type":"quantitative","axis":{"values":[-120,-90,-60,-30,0,30,60,90,120],"title":null,"labelOverlap":false}}}},
  {"mark":{"type":"text","font":"Liberation Serif","fontSize":26,"align":"left","baseline":"alphabetic","dx":-4,"dy":-5,"color":"black"},"encoding":{"text":{"field":"tag"},"x":{"datum":0,"type":"quantitative","axis":{"values":[0,60,120,180,240,300,360],"title":null,"labelExpr":"datum.value == 0 || datum.value == 360 ? '0' : datum.value < 180 ? datum.value + 'E' : datum.value == 180 ? '180' : (360 - datum.value) + 'W'"}},"y":{"datum":120,"type":"quantitative","axis":{"values":[-120,-90,-60,-30,0,30,60,90,120],"title":null,"labelOverlap":false}}}},
  {"mark":{"type":"text","font":"Liberation Mono","fontWeight":"bold","fontSize":26,"align":"left","baseline":"alphabetic","dx":53,"dy":-7,"color":"black"},"encoding":{"text":{"field":"name"},"x":{"datum":0,"type":"quantitative","axis":{"values":[0,60,120,180,240,300,360],"title":null,"labelExpr":"datum.value == 0 || datum.value == 360 ? '0' : datum.value < 180 ? datum.value + 'E' : datum.value == 180 ? '180' : (360 - datum.value) + 'W'"}},"y":{"datum":120,"type":"quantitative","axis":{"values":[-120,-90,-60,-30,0,30,60,90,120],"title":null,"labelOverlap":false}}}},
  {"mark":{"type":"text","font":"Liberation Sans","fontWeight":"bold","fontSize":22,"align":"right","baseline":"alphabetic","dx":-24,"dy":-7,"color":"black"},"encoding":{"text":{"field":"pct"},"x":{"datum":360,"type":"quantitative","axis":{"values":[0,60,120,180,240,300,360],"title":null,"labelExpr":"datum.value == 0 || datum.value == 360 ? '0' : datum.value < 180 ? datum.value + 'E' : datum.value == 180 ? '180' : (360 - datum.value) + 'W'"}},"y":{"datum":120,"type":"quantitative","axis":{"values":[-120,-90,-60,-30,0,30,60,90,120],"title":null,"labelOverlap":false}}}}
 ]}
]},
{"width":484,"height":227,"layer":[
 {"data":{"name":"d"},"mark":{"type":"line","color":"black","strokeWidth":1.7},"encoding":{
  "x":{"field":"x","type":"quantitative","scale":{"domain":[0,360],"nice":false,"zero":false},"axis":{"values":[0,60,120,180,240,300,360],"title":null,"labelExpr":"datum.value == 0 || datum.value == 360 ? '0' : datum.value < 180 ? datum.value + 'E' : datum.value == 180 ? '180' : (360 - datum.value) + 'W'"}},
  "y":{"field":"y","type":"quantitative","scale":{"domain":[-120,120],"nice":false,"zero":false},"axis":{"values":[-120,-90,-60,-30,0,30,60,90,120],"title":null,"labelOverlap":false}},
  "strokeDash":{"field":"s","type":"nominal","scale":{"domain":["OLR","u850","u200"],"range":[[1,0],[9,5],[22,5,3,5]]},"legend":{"orient":"none","legendX":88,"legendY":817,"direction":"horizontal","columns":3,"title":null,"symbolType":"stroke","symbolSize":6400,"symbolStrokeWidth":1.6,"symbolStrokeColor":"black","labelFont":"Liberation Mono","labelFontSize":27,"labelColor":"black","labelOffset":13,"columnPadding":195,"gridAlign":"each"}}}},
 {"data":{"name":"titles"},"transform":[{"filter":"datum.p == 'd'"}],"layer":[
  {"mark":{"type":"rule","color":"black","strokeWidth":2},"encoding":{"y":{"datum":0,"type":"quantitative","axis":{"values":[-120,-90,-60,-30,0,30,60,90,120],"title":null,"labelOverlap":false}}}},
  {"mark":{"type":"text","font":"Liberation Serif","fontSize":26,"align":"left","baseline":"alphabetic","dx":-1,"dy":-5,"color":"black"},"encoding":{"text":{"field":"tag"},"x":{"datum":0,"type":"quantitative","axis":{"values":[0,60,120,180,240,300,360],"title":null,"labelExpr":"datum.value == 0 || datum.value == 360 ? '0' : datum.value < 180 ? datum.value + 'E' : datum.value == 180 ? '180' : (360 - datum.value) + 'W'"}},"y":{"datum":120,"type":"quantitative","axis":{"values":[-120,-90,-60,-30,0,30,60,90,120],"title":null,"labelOverlap":false}}}},
  {"mark":{"type":"text","font":"Liberation Mono","fontWeight":"bold","fontSize":26,"align":"left","baseline":"alphabetic","dx":55,"dy":-7,"color":"black"},"encoding":{"text":{"field":"name"},"x":{"datum":0,"type":"quantitative","axis":{"values":[0,60,120,180,240,300,360],"title":null,"labelExpr":"datum.value == 0 || datum.value == 360 ? '0' : datum.value < 180 ? datum.value + 'E' : datum.value == 180 ? '180' : (360 - datum.value) + 'W'"}},"y":{"datum":120,"type":"quantitative","axis":{"values":[-120,-90,-60,-30,0,30,60,90,120],"title":null,"labelOverlap":false}}}},
  {"mark":{"type":"text","font":"Liberation Sans","fontWeight":"bold","fontSize":22,"align":"right","baseline":"alphabetic","dx":-20,"dy":-7,"color":"black"},"encoding":{"text":{"field":"pct"},"x":{"datum":360,"type":"quantitative","axis":{"values":[0,60,120,180,240,300,360],"title":null,"labelExpr":"datum.value == 0 || datum.value == 360 ? '0' : datum.value < 180 ? datum.value + 'E' : datum.value == 180 ? '180' : (360 - datum.value) + 'W'"}},"y":{"datum":120,"type":"quantitative","axis":{"values":[-120,-90,-60,-30,0,30,60,90,120],"title":null,"labelOverlap":false}}}}
 ]}
]},
{"width":484,"height":227,"layer":[
 {"data":{"name":"b"},"mark":{"type":"line","color":"black","strokeWidth":1.7},"encoding":{
  "x":{"field":"x","type":"quantitative","scale":{"domain":[0,360],"nice":false,"zero":false},"axis":{"values":[0,60,120,180,240,300,360],"title":null,"labelExpr":"datum.value == 0 || datum.value == 360 ? '0' : datum.value < 180 ? datum.value + 'E' : datum.value == 180 ? '180' : (360 - datum.value) + 'W'"}},
  "y":{"field":"y","type":"quantitative","scale":{"domain":[-120,120],"nice":false,"zero":false},"axis":{"values":[-120,-90,-60,-30,0,30,60,90,120],"title":null,"labelOverlap":false}},
  "strokeDash":{"field":"s","type":"nominal","scale":{"domain":["OLR","u850","u200"],"range":[[1,0],[9,5],[22,5,3,5]]},"legend":{"orient":"none","legendX":88,"legendY":817,"direction":"horizontal","columns":3,"title":null,"symbolType":"stroke","symbolSize":6400,"symbolStrokeWidth":1.6,"symbolStrokeColor":"black","labelFont":"Liberation Mono","labelFontSize":27,"labelColor":"black","labelOffset":13,"columnPadding":195,"gridAlign":"each"}}}},
 {"data":{"name":"titles"},"transform":[{"filter":"datum.p == 'b'"}],"layer":[
  {"mark":{"type":"rule","color":"black","strokeWidth":2},"encoding":{"y":{"datum":0,"type":"quantitative","axis":{"values":[-120,-90,-60,-30,0,30,60,90,120],"title":null,"labelOverlap":false}}}},
  {"mark":{"type":"text","font":"Liberation Serif","fontSize":26,"align":"left","baseline":"alphabetic","dx":-4,"dy":-5,"color":"black"},"encoding":{"text":{"field":"tag"},"x":{"datum":0,"type":"quantitative","axis":{"values":[0,60,120,180,240,300,360],"title":null,"labelExpr":"datum.value == 0 || datum.value == 360 ? '0' : datum.value < 180 ? datum.value + 'E' : datum.value == 180 ? '180' : (360 - datum.value) + 'W'"}},"y":{"datum":120,"type":"quantitative","axis":{"values":[-120,-90,-60,-30,0,30,60,90,120],"title":null,"labelOverlap":false}}}},
  {"mark":{"type":"text","font":"Liberation Mono","fontWeight":"bold","fontSize":26,"align":"left","baseline":"alphabetic","dx":53,"dy":-7,"color":"black"},"encoding":{"text":{"field":"name"},"x":{"datum":0,"type":"quantitative","axis":{"values":[0,60,120,180,240,300,360],"title":null,"labelExpr":"datum.value == 0 || datum.value == 360 ? '0' : datum.value < 180 ? datum.value + 'E' : datum.value == 180 ? '180' : (360 - datum.value) + 'W'"}},"y":{"datum":120,"type":"quantitative","axis":{"values":[-120,-90,-60,-30,0,30,60,90,120],"title":null,"labelOverlap":false}}}},
  {"mark":{"type":"text","font":"Liberation Sans","fontWeight":"bold","fontSize":22,"align":"right","baseline":"alphabetic","dx":-24,"dy":-7,"color":"black"},"encoding":{"text":{"field":"pct"},"x":{"datum":360,"type":"quantitative","axis":{"values":[0,60,120,180,240,300,360],"title":null,"labelExpr":"datum.value == 0 || datum.value == 360 ? '0' : datum.value < 180 ? datum.value + 'E' : datum.value == 180 ? '180' : (360 - datum.value) + 'W'"}},"y":{"datum":120,"type":"quantitative","axis":{"values":[-120,-90,-60,-30,0,30,60,90,120],"title":null,"labelOverlap":false}}}}
 ]}
]},
{"width":484,"height":227,"layer":[
 {"data":{"name":"e"},"mark":{"type":"line","color":"black","strokeWidth":1.7},"encoding":{
  "x":{"field":"x","type":"quantitative","scale":{"domain":[0,360],"nice":false,"zero":false},"axis":{"values":[0,60,120,180,240,300,360],"title":null,"labelExpr":"datum.value == 0 || datum.value == 360 ? '0' : datum.value < 180 ? datum.value + 'E' : datum.value == 180 ? '180' : (360 - datum.value) + 'W'"}},
  "y":{"field":"y","type":"quantitative","scale":{"domain":[-120,120],"nice":false,"zero":false},"axis":{"values":[-120,-90,-60,-30,0,30,60,90,120],"title":null,"labelOverlap":false}},
  "strokeDash":{"field":"s","type":"nominal","scale":{"domain":["OLR","u850","u200"],"range":[[1,0],[9,5],[22,5,3,5]]},"legend":{"orient":"none","legendX":88,"legendY":817,"direction":"horizontal","columns":3,"title":null,"symbolType":"stroke","symbolSize":6400,"symbolStrokeWidth":1.6,"symbolStrokeColor":"black","labelFont":"Liberation Mono","labelFontSize":27,"labelColor":"black","labelOffset":13,"columnPadding":195,"gridAlign":"each"}}}},
 {"data":{"name":"titles"},"transform":[{"filter":"datum.p == 'e'"}],"layer":[
  {"mark":{"type":"rule","color":"black","strokeWidth":2},"encoding":{"y":{"datum":0,"type":"quantitative","axis":{"values":[-120,-90,-60,-30,0,30,60,90,120],"title":null,"labelOverlap":false}}}},
  {"mark":{"type":"text","font":"Liberation Serif","fontSize":26,"align":"left","baseline":"alphabetic","dx":-1,"dy":-5,"color":"black"},"encoding":{"text":{"field":"tag"},"x":{"datum":0,"type":"quantitative","axis":{"values":[0,60,120,180,240,300,360],"title":null,"labelExpr":"datum.value == 0 || datum.value == 360 ? '0' : datum.value < 180 ? datum.value + 'E' : datum.value == 180 ? '180' : (360 - datum.value) + 'W'"}},"y":{"datum":120,"type":"quantitative","axis":{"values":[-120,-90,-60,-30,0,30,60,90,120],"title":null,"labelOverlap":false}}}},
  {"mark":{"type":"text","font":"Liberation Mono","fontWeight":"bold","fontSize":26,"align":"left","baseline":"alphabetic","dx":55,"dy":-7,"color":"black"},"encoding":{"text":{"field":"name"},"x":{"datum":0,"type":"quantitative","axis":{"values":[0,60,120,180,240,300,360],"title":null,"labelExpr":"datum.value == 0 || datum.value == 360 ? '0' : datum.value < 180 ? datum.value + 'E' : datum.value == 180 ? '180' : (360 - datum.value) + 'W'"}},"y":{"datum":120,"type":"quantitative","axis":{"values":[-120,-90,-60,-30,0,30,60,90,120],"title":null,"labelOverlap":false}}}},
  {"mark":{"type":"text","font":"Liberation Sans","fontWeight":"bold","fontSize":22,"align":"right","baseline":"alphabetic","dx":-20,"dy":-7,"color":"black"},"encoding":{"text":{"field":"pct"},"x":{"datum":360,"type":"quantitative","axis":{"values":[0,60,120,180,240,300,360],"title":null,"labelExpr":"datum.value == 0 || datum.value == 360 ? '0' : datum.value < 180 ? datum.value + 'E' : datum.value == 180 ? '180' : (360 - datum.value) + 'W'"}},"y":{"datum":120,"type":"quantitative","axis":{"values":[-120,-90,-60,-30,0,30,60,90,120],"title":null,"labelOverlap":false}}}}
 ]}
]},
{"width":484,"height":227,"layer":[
 {"data":{"name":"c"},"mark":{"type":"line","color":"black","strokeWidth":1.7},"encoding":{
  "x":{"field":"x","type":"quantitative","scale":{"domain":[0,360],"nice":false,"zero":false},"axis":{"values":[0,60,120,180,240,300,360],"title":null,"labelExpr":"datum.value == 0 || datum.value == 360 ? '0' : datum.value < 180 ? datum.value + 'E' : datum.value == 180 ? '180' : (360 - datum.value) + 'W'"}},
  "y":{"field":"y","type":"quantitative","scale":{"domain":[-120,120],"nice":false,"zero":false},"axis":{"values":[-120,-90,-60,-30,0,30,60,90,120],"title":null,"labelOverlap":false}},
  "strokeDash":{"field":"s","type":"nominal","scale":{"domain":["OLR","u850","u200"],"range":[[1,0],[9,5],[22,5,3,5]]},"legend":{"orient":"none","legendX":88,"legendY":817,"direction":"horizontal","columns":3,"title":null,"symbolType":"stroke","symbolSize":6400,"symbolStrokeWidth":1.6,"symbolStrokeColor":"black","labelFont":"Liberation Mono","labelFontSize":27,"labelColor":"black","labelOffset":13,"columnPadding":195,"gridAlign":"each"}}}},
 {"data":{"name":"titles"},"transform":[{"filter":"datum.p == 'c'"}],"layer":[
  {"mark":{"type":"rule","color":"black","strokeWidth":2},"encoding":{"y":{"datum":0,"type":"quantitative","axis":{"values":[-120,-90,-60,-30,0,30,60,90,120],"title":null,"labelOverlap":false}}}},
  {"mark":{"type":"text","font":"Liberation Serif","fontSize":26,"align":"left","baseline":"alphabetic","dx":-4,"dy":-5,"color":"black"},"encoding":{"text":{"field":"tag"},"x":{"datum":0,"type":"quantitative","axis":{"values":[0,60,120,180,240,300,360],"title":null,"labelExpr":"datum.value == 0 || datum.value == 360 ? '0' : datum.value < 180 ? datum.value + 'E' : datum.value == 180 ? '180' : (360 - datum.value) + 'W'"}},"y":{"datum":120,"type":"quantitative","axis":{"values":[-120,-90,-60,-30,0,30,60,90,120],"title":null,"labelOverlap":false}}}},
  {"mark":{"type":"text","font":"Liberation Mono","fontWeight":"bold","fontSize":26,"align":"left","baseline":"alphabetic","dx":53,"dy":-7,"color":"black"},"encoding":{"text":{"field":"name"},"x":{"datum":0,"type":"quantitative","axis":{"values":[0,60,120,180,240,300,360],"title":null,"labelExpr":"datum.value == 0 || datum.value == 360 ? '0' : datum.value < 180 ? datum.value + 'E' : datum.value == 180 ? '180' : (360 - datum.value) + 'W'"}},"y":{"datum":120,"type":"quantitative","axis":{"values":[-120,-90,-60,-30,0,30,60,90,120],"title":null,"labelOverlap":false}}}},
  {"mark":{"type":"text","font":"Liberation Sans","fontWeight":"bold","fontSize":22,"align":"right","baseline":"alphabetic","dx":-24,"dy":-7,"color":"black"},"encoding":{"text":{"field":"pct"},"x":{"datum":360,"type":"quantitative","axis":{"values":[0,60,120,180,240,300,360],"title":null,"labelExpr":"datum.value == 0 || datum.value == 360 ? '0' : datum.value < 180 ? datum.value + 'E' : datum.value == 180 ? '180' : (360 - datum.value) + 'W'"}},"y":{"datum":120,"type":"quantitative","axis":{"values":[-120,-90,-60,-30,0,30,60,90,120],"title":null,"labelOverlap":false}}}}
 ]}
]},
{"width":484,"height":227,"layer":[
 {"data":{"name":"f"},"mark":{"type":"line","color":"black","strokeWidth":1.7},"encoding":{
  "x":{"field":"x","type":"quantitative","scale":{"domain":[0,360],"nice":false,"zero":false},"axis":{"values":[0,60,120,180,240,300,360],"title":null,"labelExpr":"datum.value == 0 || datum.value == 360 ? '0' : datum.value < 180 ? datum.value + 'E' : datum.value == 180 ? '180' : (360 - datum.value) + 'W'"}},
  "y":{"field":"y","type":"quantitative","scale":{"domain":[-120,120],"nice":false,"zero":false},"axis":{"values":[-120,-90,-60,-30,0,30,60,90,120],"title":null,"labelOverlap":false}},
  "strokeDash":{"field":"s","type":"nominal","scale":{"domain":["OLR","u850","u200"],"range":[[1,0],[9,5],[22,5,3,5]]},"legend":{"orient":"none","legendX":88,"legendY":817,"direction":"horizontal","columns":3,"title":null,"symbolType":"stroke","symbolSize":6400,"symbolStrokeWidth":1.6,"symbolStrokeColor":"black","labelFont":"Liberation Mono","labelFontSize":27,"labelColor":"black","labelOffset":13,"columnPadding":195,"gridAlign":"each"}}}},
 {"data":{"name":"titles"},"transform":[{"filter":"datum.p == 'f'"}],"layer":[
  {"mark":{"type":"rule","color":"black","strokeWidth":2},"encoding":{"y":{"datum":0,"type":"quantitative","axis":{"values":[-120,-90,-60,-30,0,30,60,90,120],"title":null,"labelOverlap":false}}}},
  {"mark":{"type":"text","font":"Liberation Serif","fontSize":26,"align":"left","baseline":"alphabetic","dx":-1,"dy":-5,"color":"black"},"encoding":{"text":{"field":"tag"},"x":{"datum":0,"type":"quantitative","axis":{"values":[0,60,120,180,240,300,360],"title":null,"labelExpr":"datum.value == 0 || datum.value == 360 ? '0' : datum.value < 180 ? datum.value + 'E' : datum.value == 180 ? '180' : (360 - datum.value) + 'W'"}},"y":{"datum":120,"type":"quantitative","axis":{"values":[-120,-90,-60,-30,0,30,60,90,120],"title":null,"labelOverlap":false}}}},
  {"mark":{"type":"text","font":"Liberation Mono","fontWeight":"bold","fontSize":26,"align":"left","baseline":"alphabetic","dx":55,"dy":-7,"color":"black"},"encoding":{"text":{"field":"name"},"x":{"datum":0,"type":"quantitative","axis":{"values":[0,60,120,180,240,300,360],"title":null,"labelExpr":"datum.value == 0 || datum.value == 360 ? '0' : datum.value < 180 ? datum.value + 'E' : datum.value == 180 ? '180' : (360 - datum.value) + 'W'"}},"y":{"datum":120,"type":"quantitative","axis":{"values":[-120,-90,-60,-30,0,30,60,90,120],"title":null,"labelOverlap":false}}}},
  {"mark":{"type":"text","font":"Liberation Sans","fontWeight":"bold","fontSize":22,"align":"right","baseline":"alphabetic","dx":-20,"dy":-7,"color":"black"},"encoding":{"text":{"field":"pct"},"x":{"datum":360,"type":"quantitative","axis":{"values":[0,60,120,180,240,300,360],"title":null,"labelExpr":"datum.value == 0 || datum.value == 360 ? '0' : datum.value < 180 ? datum.value + 'E' : datum.value == 180 ? '180' : (360 - datum.value) + 'W'"}},"y":{"datum":120,"type":"quantitative","axis":{"values":[-120,-90,-60,-30,0,30,60,90,120],"title":null,"labelOverlap":false}}}}
 ]}
]}
],
"config":{
 "view":{"stroke":"black","strokeWidth":3},
 "axis":{"domain":false,"grid":true,"gridColor":"#999999","gridDash":[3,10],"gridWidth":1.5,"labelFont":"Liberation Sans","labelFontSize":17,"labelColor":"black","tickColor":"black","tickWidth":1.5},
 "axisX":{"ticks":false,"labelPadding":7},
 "axisY":{"tickSize":7,"labelPadding":3}
}
}
